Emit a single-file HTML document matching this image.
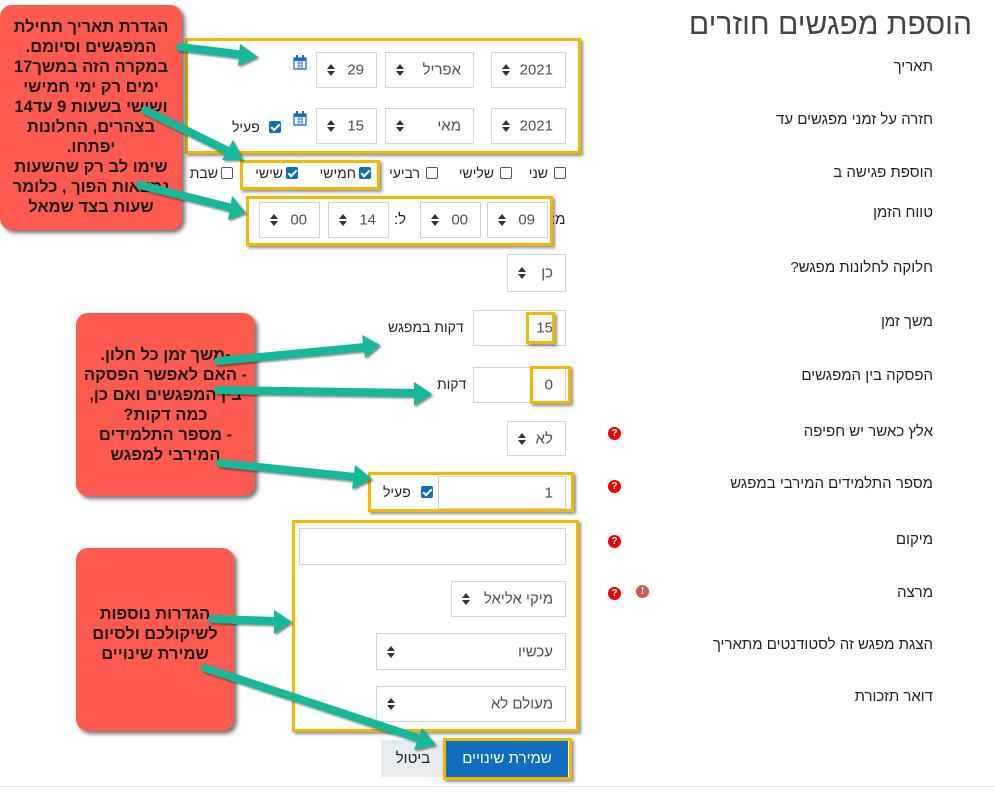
<!DOCTYPE html>
<html><head><meta charset="utf-8">
<style>
body{margin:0;width:994px;height:794px;background:#fff;position:relative;overflow:hidden;font-family:"Liberation Sans","Noto Sans CJK SC",sans-serif;color:#1d2125}
.a{position:absolute}
.lbl{position:absolute;right:61px;font-size:15px;direction:rtl;white-space:nowrap}
.box{position:absolute;border:1px solid #ced4da;background:#fff;box-sizing:border-box;font-size:15px;color:#495057}
.box .t{position:absolute;right:12px;top:50%;transform:translateY(-50%);direction:rtl;white-space:nowrap}
.box .ar{position:absolute;left:10px;top:50%;transform:translateY(-50%);width:8px;height:12px}
.y{position:absolute;border:3px solid #f5b800;box-sizing:border-box;box-shadow:2px 2px 3px rgba(0,0,0,.45)}
.cb{position:absolute;width:12px;height:12px;border:1px solid #555;border-radius:2px;box-sizing:border-box;background:#fff}
.cb.on{background:#0f6cbf;border-color:#0f6cbf}
.cb.on:after{content:"";position:absolute;left:3px;top:0px;width:3px;height:7px;border:solid #fff;border-width:0 2px 2px 0;transform:rotate(45deg)}
.wd{position:absolute;top:165px;font-size:14px;direction:rtl;white-space:nowrap}
.call{position:absolute;background:#ff5a4f;border-radius:12px;box-shadow:3px 3px 4px rgba(0,0,0,.55);font-weight:bold;font-size:16.5px;line-height:20px;text-align:center;direction:rtl;color:#1a1a1a}
.q{position:absolute;width:13px;height:13px;border-radius:50%;background:#e00;color:#fff;font-size:10px;font-weight:bold;text-align:center;line-height:13px}
</style></head><body>

<div class="a" style="right:22px;top:8px;font-size:30px;color:#444;direction:rtl;white-space:nowrap;font-weight:300">הוספת מפגשים חוזרים</div>

<div class="lbl" style="top:58px">תאריך</div>
<div class="lbl" style="top:111px">חזרה על זמני מפגשים עד</div>
<div class="lbl" style="top:164px">הוספת פגישה ב</div>
<div class="lbl" style="top:204px">טווח הזמן</div>
<div class="lbl" style="top:259px">חלוקה לחלונות מפגש?</div>
<div class="lbl" style="top:313px">משך זמן</div>
<div class="lbl" style="top:367px">הפסקה בין המפגשים</div>
<div class="lbl" style="top:423px">אלץ כאשר יש חפיפה</div>
<div class="lbl" style="top:475px">מספר התלמידים המירבי במפגש</div>
<div class="lbl" style="top:531px">מיקום</div>
<div class="lbl" style="top:584px">מרצה</div>
<div class="lbl" style="top:636px">הצגת מפגש זה לסטודנטים מתאריך</div>
<div class="lbl" style="top:688px">דואר תזכורת</div>

<svg width="0" height="0" style="position:absolute"><defs><g id="ar"><polygon points="0,5 4,0 8,5" fill="#333"/><polygon points="0,7 4,12 8,7" fill="#333"/></g></defs></svg>

<div class="box" style="left:491px;top:52px;width:75px;height:36px"><span class="t">2021</span><svg class="ar"><use href="#ar"/></svg></div>
<div class="box" style="left:385px;top:52px;width:89px;height:36px"><span class="t">אפריל</span><svg class="ar"><use href="#ar"/></svg></div>
<div class="box" style="left:316px;top:52px;width:61px;height:36px"><span class="t">29</span><svg class="ar"><use href="#ar"/></svg></div>
<div class="box" style="left:491px;top:108px;width:75px;height:36px"><span class="t">2021</span><svg class="ar"><use href="#ar"/></svg></div>
<div class="box" style="left:385px;top:108px;width:89px;height:36px"><span class="t">מאי</span><svg class="ar"><use href="#ar"/></svg></div>
<div class="box" style="left:316px;top:108px;width:61px;height:36px"><span class="t">15</span><svg class="ar"><use href="#ar"/></svg></div>
<svg class="a" style="left:293px;top:55px" width="14" height="15"><rect x="1" y="3" width="12" height="11" fill="#fff" stroke="#1b6fd0" stroke-width="1.3"/><rect x="1" y="3" width="12" height="3" fill="#1b6fd0"/><path d="M4 8h6M4 11h6M6 6v8M9 6v8" stroke="#1b6fd0" stroke-width=".8"/><rect x="3" y="0" width="2" height="4" fill="#1b6fd0"/><rect x="9" y="0" width="2" height="4" fill="#1b6fd0"/></svg>
<svg class="a" style="left:293px;top:111px" width="14" height="15"><rect x="1" y="3" width="12" height="11" fill="#fff" stroke="#1b6fd0" stroke-width="1.3"/><rect x="1" y="3" width="12" height="3" fill="#1b6fd0"/><path d="M4 8h6M4 11h6M6 6v8M9 6v8" stroke="#1b6fd0" stroke-width=".8"/><rect x="3" y="0" width="2" height="4" fill="#1b6fd0"/><rect x="9" y="0" width="2" height="4" fill="#1b6fd0"/></svg>
<span class="cb on" style="left:269px;top:121px"></span><div class="a" style="left:232px;top:119px;font-size:14px">פעיל</div>
<div class="y" style="left:185px;top:38px;width:396px;height:116px"></div>

<!-- weekdays -->
<span class="cb" style="left:554px;top:167px"></span><div class="wd" style="right:446px">שני</div>
<span class="cb" style="left:500px;top:167px"></span><div class="wd" style="right:500px">שלישי</div>
<span class="cb" style="left:426px;top:167px"></span><div class="wd" style="right:574px">רביעי</div>
<span class="cb on" style="left:359px;top:167px"></span><div class="wd" style="right:638px">חמישי</div>
<span class="cb on" style="left:286px;top:167px"></span><div class="wd" style="right:711px">שישי</div>
<span class="cb" style="left:221px;top:167px"></span><div class="wd" style="right:776px">שבת</div>
<div class="y" style="left:240px;top:160px;width:140px;height:30px"></div>

<div class="a" style="left:551px;top:212px;font-size:15px">:מ</div>
<div class="a" style="left:551px;top:210px;width:14px;height:24px;background:#fff"></div>
<div class="a" style="left:551px;top:211px;font-size:15px;direction:rtl">מ:</div>
<div class="box" style="left:487px;top:202px;width:61px;height:36px"><span class="t">09</span><svg class="ar"><use href="#ar"/></svg></div>
<div class="box" style="left:420px;top:202px;width:61px;height:36px"><span class="t">00</span><svg class="ar"><use href="#ar"/></svg></div>
<div class="a" style="left:394px;top:211px;font-size:15px;direction:rtl">ל:</div>
<div class="box" style="left:328px;top:202px;width:61px;height:36px"><span class="t">14</span><svg class="ar"><use href="#ar"/></svg></div>
<div class="box" style="left:259px;top:202px;width:61px;height:36px"><span class="t">00</span><svg class="ar"><use href="#ar"/></svg></div>
<div class="y" style="left:246px;top:196px;width:307px;height:50px"></div>

<div class="box" style="left:507px;top:254px;width:59px;height:38px"><span class="t">כן</span><svg class="ar"><use href="#ar"/></svg></div>

<div class="box" style="left:473px;top:310px;width:93px;height:36px"><span class="t">15</span></div>
<div class="y" style="left:526px;top:312px;width:29px;height:32px"></div>
<div class="a" style="left:388px;top:319px;font-size:14px;direction:rtl">דקות במפגש</div>

<div class="box" style="left:473px;top:367px;width:93px;height:36px"><span class="t">0</span></div>
<div class="y" style="left:530px;top:366px;width:41px;height:38px"></div>
<div class="a" style="left:437px;top:376px;font-size:14px;direction:rtl">דקות</div>

<div class="box" style="left:507px;top:421px;width:59px;height:35px"><span class="t">לא</span><svg class="ar"><use href="#ar"/></svg></div>
<div class="q" style="left:608px;top:427px">?</div>

<div class="box" style="left:438px;top:476px;width:128px;height:33px"><span class="t">1</span></div>
<span class="cb on" style="left:421px;top:486px"></span><div class="a" style="left:383px;top:484px;font-size:14px">פעיל</div>
<div class="y" style="left:368px;top:472px;width:206px;height:40px"></div>
<div class="q" style="left:608px;top:480px">?</div>

<div class="box" style="left:299px;top:528px;width:267px;height:37px"></div>
<div class="box" style="left:451px;top:581px;width:115px;height:36px"><span class="t">מיקי אליאל</span><svg class="ar"><use href="#ar"/></svg></div>
<div class="box" style="left:376px;top:633px;width:190px;height:37px"><span class="t">עכשיו</span><svg class="ar"><use href="#ar"/></svg></div>
<div class="box" style="left:376px;top:686px;width:190px;height:36px"><span class="t">מעולם לא</span><svg class="ar"><use href="#ar"/></svg></div>
<div class="y" style="left:292px;top:520px;width:287px;height:212px"></div>
<div class="q" style="left:608px;top:535px">?</div>
<div class="q" style="left:608px;top:587px">?</div>
<div class="q" style="left:636px;top:585px;background:#d9534f">!</div>

<div class="a" style="left:381px;top:740px;width:64px;height:37px;background:#e9ecef;font-size:15px;text-align:center;line-height:37px">ביטול</div>
<div class="a" style="left:446px;top:740px;width:122px;height:37px;background:#0f6cbf;color:#fff;font-size:15px;text-align:center;line-height:37px;direction:rtl">שמירת שינויים</div>
<div class="y" style="left:443px;top:738px;width:129px;height:42px"></div>

<div class="a" style="left:0;top:786px;width:994px;height:1px;background:#dee2e6"></div>

<div class="call" style="left:0;top:5px;width:182px;height:225px;padding-top:12px;box-sizing:border-box">הגדרת תאריך תחילת<br>המפגשים וסיומם.<br>במקרה הזה במשך17<br>ימים רק ימי חמישי<br>ושישי בשעות 9 עד14<br>בצהרים, החלונות<br>יפתחו.<br>שימו לב רק שהשעות<br>נמצאות הפוך , כלומר<br>שעות בצד שמאל</div>
<div class="call" style="left:76px;top:313px;width:179px;height:183px;padding-top:32px;box-sizing:border-box">-משך זמן כל חלון.<br>- האם לאפשר הפסקה<br>בין המפגשים  ואם כן,<br>כמה דקות?<br>- מספר התלמידים<br>המירבי למפגש</div>
<div class="call" style="left:76px;top:548px;width:158px;height:183px;padding-top:56px;box-sizing:border-box">הגדרות נוספות<br>לשיקולכם ולסיום<br>שמירת שינויים</div>

<svg class="a" style="left:0;top:0" width="994" height="794">
<defs><filter id="sh"><feDropShadow dx="1.5" dy="1.5" stdDeviation="1" flood-opacity=".5"/></filter></defs>
<g stroke="#12b89a" stroke-width="8" stroke-linecap="round" fill="#12b89a" filter="url(#sh)">
<line x1="180" y1="47" x2="245" y2="55"/><polygon stroke="none" points="258,57 240,44 238,66"/>
<line x1="145" y1="110" x2="230" y2="152"/><polygon stroke="none" points="243,160 233,140 222,160"/>
<line x1="140" y1="185" x2="232" y2="208"/><polygon stroke="none" points="246,213 232,196 228,220"/>
<line x1="218" y1="361" x2="365" y2="347"/><polygon stroke="none" points="380,345 362,335 365,358"/>
<line x1="218" y1="390" x2="415" y2="393"/><polygon stroke="none" points="432,394 414,382 414,406"/>
<line x1="220" y1="463" x2="355" y2="477"/><polygon stroke="none" points="372,479 355,465 352,489"/>
<line x1="212" y1="619" x2="276" y2="621"/><polygon stroke="none" points="292,622 274,610 274,634"/>
<line x1="205" y1="668" x2="418" y2="738"/><polygon stroke="none" points="436,745 422,728 414,750"/>
</g></svg>
</body></html>
